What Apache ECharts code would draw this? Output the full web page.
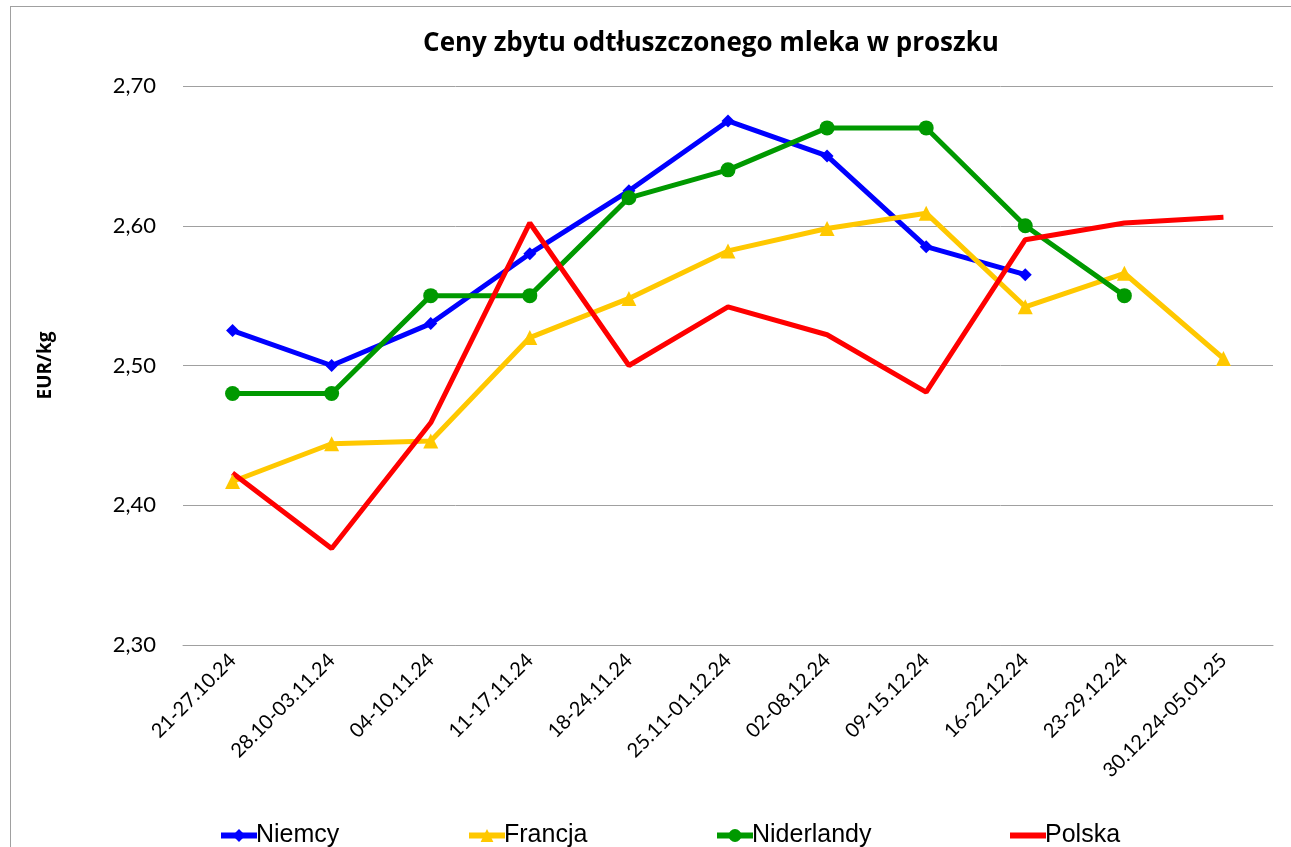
<!DOCTYPE html>
<html>
<head>
<meta charset="utf-8">
<script src="https://cdn.jsdelivr.net/npm/echarts@6/dist/echarts.min.js"></script>
<style>
html,body{margin:0;padding:0;background:#fff;}
#chart{position:absolute;left:10px;top:6px;width:1290px;height:850px;border-left:1px solid #a0a0a0;border-top:1px solid #a0a0a0;}
</style>
</head>
<body>
<div id="chart"></div>
<script>
var weeks=['21-27.10.24','28.10-03.11.24','04-10.11.24','11-17.11.24','18-24.11.24','25.11-01.12.24','02-08.12.24','09-15.12.24','16-22.12.24','23-29.12.24','30.12.24-05.01.25'];
var niemcy=[2.525,2.50,2.53,2.58,2.625,2.675,2.65,2.585,2.565,null,null];
var francja=[2.417,2.444,2.446,2.52,2.548,2.582,2.598,2.609,2.542,2.566,2.505];
var niderlandy=[2.48,2.48,2.55,2.55,2.62,2.64,2.67,2.67,2.60,2.55,null];
var polska=[2.423,2.369,2.459,2.602,2.50,2.542,2.522,2.481,2.59,2.602,2.606];

var font='Lato';
var mychart=echarts.init(document.getElementById('chart'));
function line(name,data,color,symbol,size){
    return {
        name:name,
        type:'line',
        data:data,
        symbol:symbol,
        symbolSize:size,
        showSymbol:symbol!=='none',
        lineStyle:{color:color,width:5},
        itemStyle:{color:color},
        connectNulls:false
    };
}
function leg(name,left,icon){
    var l={
        data:[icon?{name:name,icon:icon}:name],
        bottom:4,
        left:left,
        itemWidth:36,
        itemHeight:icon?6:16,
        itemGap:0,
        lineStyle:{width:6},
        textStyle:{fontFamily:'Liberation Sans Narrow, Liberation Sans',fontSize:25,color:'#000',padding:[0,0,0,-6]}
    };
    return l;
}
option={
    animation:false,
    title:{
        text:'Ceny zbytu odtłuszczonego mleka w proszku',
        left:695,
        top:19,
        textAlign:'center',
        textStyle:{fontFamily:'Open Sans',fontSize:26,fontWeight:'bold',color:'#000'}
    },
    legend:[
        leg('Niemcy',202),
        leg('Francja',450),
        leg('Niderlandy',698),
        leg('Polska',994,'rect')
    ],
    grid:{left:172,right:28,top:79,bottom:212},
    xAxis:{
        type:'category',
        data:weeks,
        boundaryGap:true,
        axisLine:{lineStyle:{color:'#a0a0a0'}},
        axisTick:{show:false},
        axisLabel:{rotate:45,fontFamily:font,fontSize:20,color:'#000',margin:12}
    },
    yAxis:{
        type:'value',
        min:2.30,
        max:2.70,
        interval:0.10,
        name:'EUR/kg',
        nameLocation:'middle',
        nameGap:128,
        nameTextStyle:{fontFamily:'Open Sans',fontSize:19,fontWeight:'bold',color:'#000'},
        axisLine:{show:false},
        axisTick:{show:false},
        splitLine:{lineStyle:{color:'#a0a0a0',width:1}},
        axisLabel:{
            fontFamily:font,fontSize:22,color:'#000',margin:27,
            formatter:function(v){return v.toFixed(2).replace('.',',');}
        }
    },
    series:[
        line('Niemcy',niemcy,'#0000ff','diamond',13),
        line('Francja',francja,'#ffc800','triangle',15),
        line('Niderlandy',niderlandy,'#009900','circle',15),
        line('Polska',polska,'#ff0000','none',0)
    ]
};
mychart.setOption(option);
</script>
</body>
</html>
